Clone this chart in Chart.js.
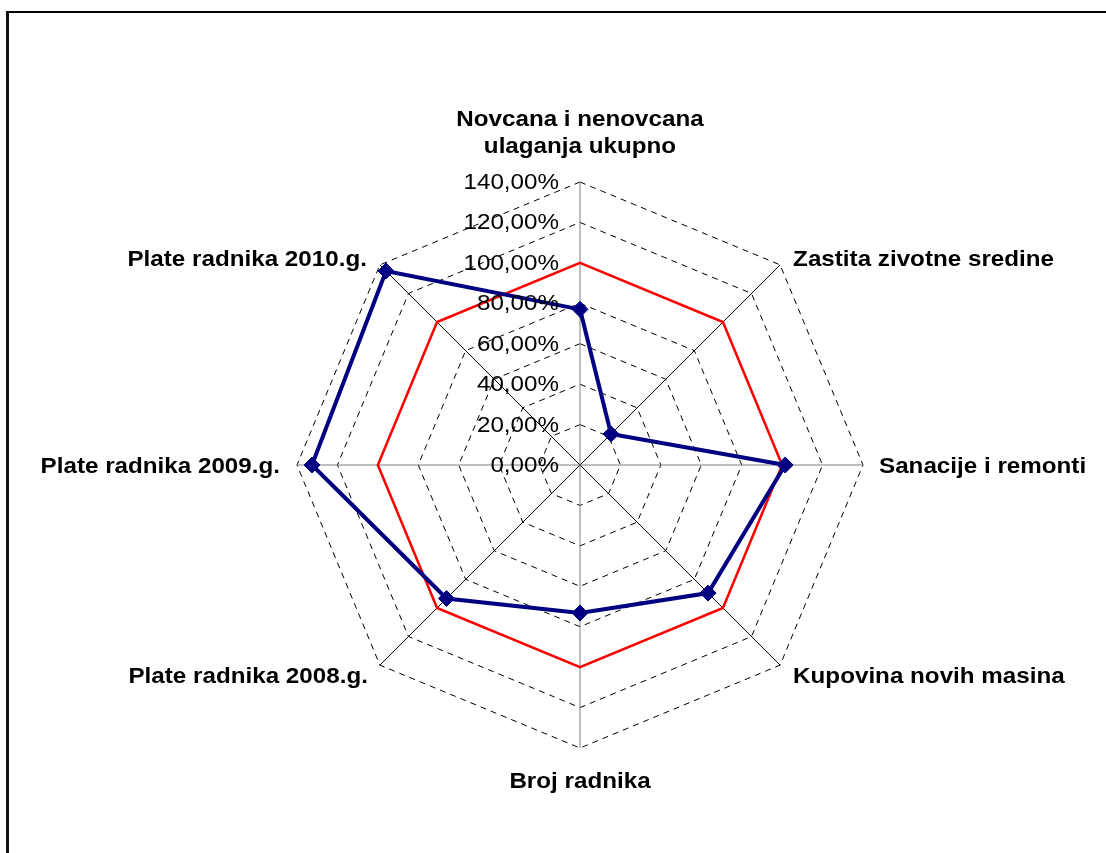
<!DOCTYPE html>
<html>
<head>
<meta charset="utf-8">
<script src="https://cdn.jsdelivr.net/npm/chart.js@4.4.1/dist/chart.umd.min.js"></script>
<style>
  html, body { margin: 0; padding: 0; background: #fff; overflow: hidden; }
  #wrap { position: relative; width: 1106px; height: 853px; }
  #frame {
    position: absolute; left: 6px; top: 11px; width: 1200px; height: 1000px;
    border-top: 2px solid #000; border-left: 3px solid #111;
    box-sizing: border-box; pointer-events: none;
  }
  canvas { position: absolute; left: 0; top: 0; }
</style>
</head>
<body>
<div id="wrap">
  <canvas id="radar" width="1106" height="853"></canvas>
  <div id="frame"></div>
</div>
<script>
// categories (axis labels), multi-line where the original wraps
const categories = [
    ['Novcana i nenovcana', 'ulaganja ukupno'],
    'Zastita zivotne sredine',
    'Sanacije i remonti',
    'Kupovina novih masina',
    'Broj radnika',
    'Plate radnika 2008.g.',
    'Plate radnika 2009.g.',
    'Plate radnika 2010.g.'
];

// series values, in percent
const actualValues = [77, 21.7, 101.5, 89.6, 73.2, 93.4, 132.6, 135.7];
const baseValues = [100, 100, 100, 100, 100, 100, 100, 100];

// tick values of the radial axis
const tickValues = [0, 20, 40, 60, 80, 100, 120, 140];

const FONT = '"Liberation Sans", Arial, sans-serif';
const STRETCH = 1.1; // the original text is a bit wider than plain Arial

function fmtPercent(v) {
    return v.toFixed(2).replace('.', ',') + '%';
}

function drawStretched(ctx, text, x, y) {
    ctx.save();
    ctx.translate(x, y);
    ctx.scale(STRETCH, 1);
    ctx.fillText(text, 0, 0);
    ctx.restore();
}

// label placement relative to the end of each spoke: [dx, dy, align]
const LABEL_OFFSETS = [
    [0, -29, 'center'],
    [13, 1, 'left'],
    [16, 8, 'left'],
    [13, 18, 'left'],
    [0, 40, 'center'],
    [-12, 18, 'right'],
    [-17, 8, 'right'],
    [-13, 1, 'right']
];

const excelLabels = {
    id: 'excelLabels',
    afterDraw(chart) {
        const scale = chart.scales.r;
        const ctx = chart.ctx;
        ctx.save();
        ctx.fillStyle = '#000';
        ctx.textBaseline = 'alphabetic';

        // tick labels, right aligned left of the vertical axis
        ctx.font = '22px ' + FONT;
        ctx.textAlign = 'right';
        scale.ticks.forEach(t => {
            const y = scale.yCenter - scale.getDistanceFromCenterForValue(t.value);
            drawStretched(ctx, fmtPercent(t.value), scale.xCenter - 21, y + 7);
        });

        // category labels
        ctx.font = 'bold 22px ' + FONT;
        categories.forEach((label, i) => {
            const pos = scale.getPointPosition(i, scale.drawingArea);
            const [dx, dy, align] = LABEL_OFFSETS[i];
            ctx.textAlign = align;
            const lines = Array.isArray(label) ? label : [label];
            lines.forEach((line, k) => {
                const shift = (k - (lines.length - 1)) * 27;
                drawStretched(ctx, line, pos.x + dx, pos.y + dy + shift);
            });
        });
        ctx.restore();
    }
};

const chart = new Chart(document.getElementById('radar'), {
    type: 'radar',
    data: {
        labels: categories.map(c => Array.isArray(c) ? c.join(' ') : c),
        datasets: [
            {
                label: 'Ostvareno',
                data: actualValues,
                borderColor: '#000080',
                backgroundColor: '#000080',
                borderWidth: 4,
                fill: false,
                tension: 0,
                pointStyle: 'rectRot',
                pointRadius: 8,
                pointBorderWidth: 1,
                pointBackgroundColor: '#000080',
                pointBorderColor: '#000080'
            },
            {
                label: 'Osnova',
                data: baseValues,
                borderColor: '#ff0000',
                backgroundColor: '#ff0000',
                borderWidth: 2.5,
                fill: false,
                tension: 0,
                pointRadius: 0
            }
        ]
    },
    options: {
        responsive: false,
        animation: false,
        events: [],
        layout: { padding: { left: 297, right: 243, top: 182, bottom: 105 } },
        scales: {
            r: {
                min: tickValues[0],
                max: tickValues[tickValues.length - 1],
                ticks: { stepSize: tickValues[1] - tickValues[0], display: false },
                pointLabels: { display: false },
                grid: { color: '#000', lineWidth: 1, borderDash: [6, 5] },
                border: { dash: [6, 5] },
                angleLines: {
                    color: ctx => ctx.index % 2 === 0 ? '#808080' : '#000',
                    lineWidth: 1
                }
            }
        },
        plugins: {
            legend: { display: false },
            tooltip: { enabled: false }
        }
    },
    plugins: [excelLabels]
});
</script>
</body>
</html>
